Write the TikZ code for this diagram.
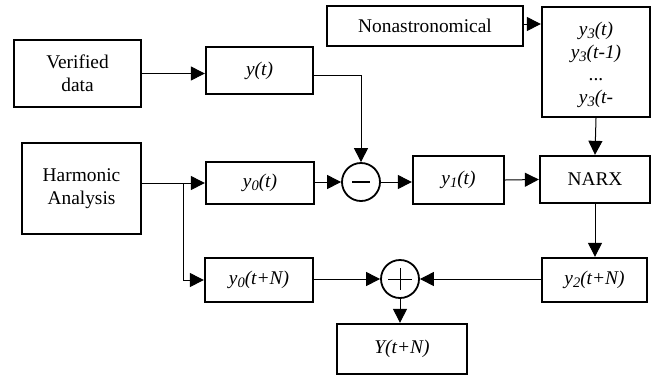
\documentclass[tikz,border=0pt]{standalone}
\usepackage{fontspec}
\setmainfont{Liberation Serif}
\usetikzlibrary{arrows.meta}
\newcommand\lsub[1]{\raisebox{-0.14em}{\fontsize{14.5}{14.5}\selectfont #1}}
\begin{document}
\begin{tikzpicture}[x=1pt,y=-1pt,
  every node/.style={font=\fontsize{19.4}{23}\selectfont},
  blockbox/.style={draw,line width=2.3pt,inner sep=0pt,align=center},
  sumnode/.style={draw,circle,line width=1.8pt,minimum size=38pt,inner sep=0pt},
  flow/.style={line width=1pt,-{Triangle[length=14pt,width=14pt]}},
  link/.style={line width=1pt}]
\useasboundingbox (0,0) rectangle (656,376);

% source blocks
\node[blockbox,minimum width=127pt,minimum height=67pt] (ver) at (77.5,73.5) {Verified\\data};
\node[blockbox,minimum width=119pt,minimum height=91pt] (harm) at (81.5,188.5) {Harmonic\\Analysis};
\node[blockbox,minimum width=196pt,minimum height=40pt] (non) at (425,26) {Nonastronomical};

% signal blocks
\node[blockbox,minimum width=107pt,minimum height=47pt] (yt) at (259.5,70.5) {\textit{y(t)}};
\node[blockbox,minimum width=108pt,minimum height=42pt] (y0t) at (260,183) {\textit{y\lsub{0}(t)}};
\node[blockbox,minimum width=108pt,minimum height=44pt] (y0tn) at (259,280) {\textit{y\lsub{0}(t+N)}};
\node[blockbox,minimum width=108pt,minimum height=110pt] (y3) at (596,62) {};
\node[align=center,font=\fontsize{19.4}{22.5}\selectfont] (y3txt) at (596,65)
  {\textit{y\lsub{3}(t)}\\\textit{y\lsub{3}(t-1)}\\...\\\textit{y\lsub{3}(t-}};
\node[blockbox,minimum width=91pt,minimum height=48pt] (y1t) at (458.5,180) {\textit{y\lsub{1}(t)}};
\node[blockbox,minimum width=110pt,minimum height=47pt] (narx) at (595,179.5) {NARX};
\node[blockbox,minimum width=105pt,minimum height=44pt] (y2tn) at (594.5,280) {\textit{y\lsub{2}(t+N)}};
\node[blockbox,minimum width=130pt,minimum height=50pt] (out) at (402,349) {\textit{Y(t+N)}};

% summing junctions
\node[sumnode] (minus) at (361,182) {};
\draw[line width=1.8pt] ([xshift=-9pt]minus.center) -- ([xshift=9pt]minus.center);
\node[sumnode] (plus) at (400,279) {};
\draw[line width=1pt] ([xshift=-12pt]plus.center) -- ([xshift=12pt]plus.center)
  ([yshift=-11pt]plus.center) -- ([yshift=11pt]plus.center);

% connectors
\coordinate (br) at (183,183);
\draw[flow] (ver.east) -- (ver.east -| yt.west);
\draw[flow] (yt.east |- 0,75) -| (minus.north);
\draw[link] (harm.east |- br) -- (br);
\draw[flow] (br) -- (y0t.west |- br);
\draw[flow] (br) |- (y0tn.west);
\draw[flow] (y0t.east |- minus) -- (minus.west);
\draw[flow] (minus.east) -- (y1t.west |- minus);
\draw[flow] (y1t.east) -- (narx.west);
\draw[flow] (non.east |- 0,24) -- (y3.west |- 0,24);
\draw[flow] (y3.south) -- (narx.north);
\draw[flow] (narx.south) -- (narx.south |- y2tn.north);
\draw[flow] (y2tn.west |- plus) -- (plus.east);
\draw[flow] (y0tn.east |- plus) -- (plus.west);
\draw[flow] (plus.south) -- (plus.south |- out.north);
\end{tikzpicture}
\end{document}
